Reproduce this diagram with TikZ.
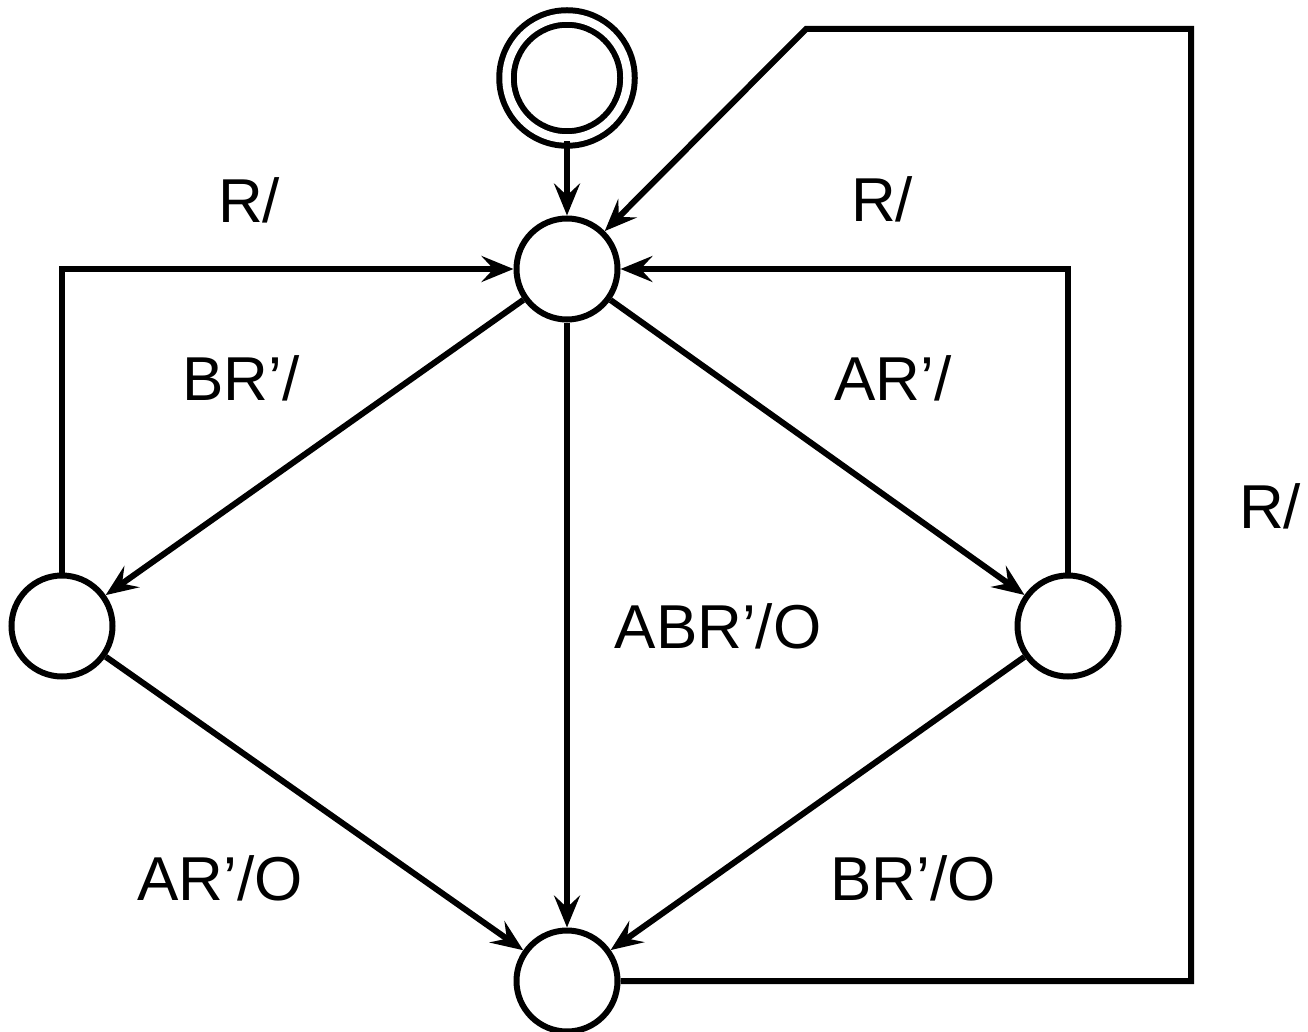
\documentclass[tikz,border=0pt]{standalone}
\usepackage{fontspec}
\setmainfont{Liberation Sans}
\usetikzlibrary{arrows.meta}
\begin{document}
\begin{tikzpicture}[x=1pt,y=-1pt,
  line width=6pt,
  state/.style={circle,draw,minimum size=101pt,inner sep=0pt},
  initstate/.style={circle,draw,double,double distance=8.5pt,minimum size=121pt,inner sep=0pt},
  edge/.style={-{Stealth[length=32pt,width=26pt,inset=12pt]}},
  lbl/.style={anchor=base,inner sep=0pt,font=\fontsize{62}{70}\selectfont}]
  \useasboundingbox (0,0) rectangle (1308,1032);

  % states
  \node[initstate] (init) at (567,78) {};
  \node[state] (top) at (567,269) {};
  \node[state] (left) at (62,626) {};
  \node[state] (right) at (1068,626) {};
  \node[state] (bot) at (567,981) {};
  \coordinate (corner) at (806,29);

  % transitions
  \draw[edge] (init) -- (top);
  \draw[edge] (top) -- (left);
  \draw[edge] (top) -- (right);
  \draw[edge] (top) -- (bot);
  \draw[edge] (left) -- (bot);
  \draw[edge] (right) -- (bot);
  \draw[edge] (left.north) |- (top.west);
  \draw[edge] (right.north) |- (top.east);
  \draw[edge] (bot.east) -| (1191,29) -- (corner) -- (top);

  % labels
  \node[lbl] (l1) at (249,223) {R/};
  \node[lbl] (l2) at (882,222) {R/};
  \node[lbl] (l3) at (1270,528) {R/};
  \node[lbl] (l4) at (241,400) {BR’/};
  \node[lbl] (l5) at (893,400) {AR’/};
  \node[lbl] (l6) at (718,648) {ABR’/O};
  \node[lbl] (l7) at (220,900) {AR’/O};
  \node[lbl] (l8) at (913,900) {BR’/O};
\end{tikzpicture}
\end{document}
